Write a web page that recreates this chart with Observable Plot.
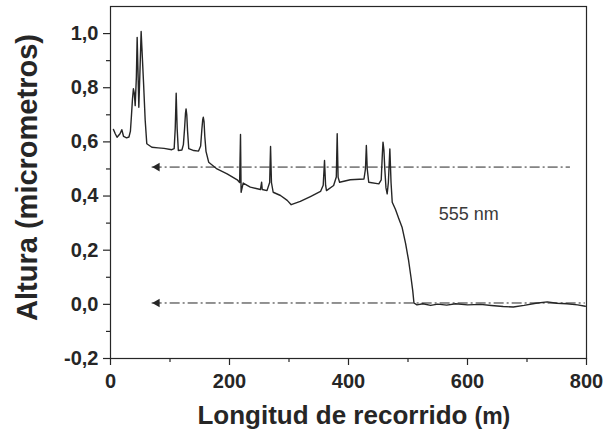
<!DOCTYPE html>
<html>
<head>
<meta charset="utf-8">
<script src="https://cdn.jsdelivr.net/npm/d3@7"></script>
<script src="https://cdn.jsdelivr.net/npm/@observablehq/plot@0.6"></script>
<style>
  html, body { margin: 0; padding: 0; background: white; }
</style>
</head>
<body>
<div id="chart"></div>
<script>
// Profile: distance along scan (m) and height (micrometres)
const distance = [5, 8, 11, 16, 19, 22, 27, 31, 33.5, 35, 37, 38.5, 40, 41.5, 43.5, 44.8, 46, 47.6, 49.5, 51.5, 52.7, 55.5, 58.3, 61, 69.5, 80, 90, 103, 107, 108.8, 110.4, 112, 114, 120, 122.5, 124.5, 126, 127, 128.2, 129.5, 131.5, 140, 148, 151.5, 153.5, 155, 156, 157.2, 158.5, 160.5, 165, 179, 196, 213, 217, 218.5, 219.5, 223, 235, 252, 254, 255, 263, 267.5, 269, 270.5, 273.4, 285.7, 297, 303.7, 319, 336, 353, 357.5, 359.7, 361.5, 363, 375, 379.5, 381, 382.5, 385, 403, 426, 428.5, 430, 431.5, 434, 451, 455, 457, 458, 459.5, 461, 463, 465, 467, 469.5, 471.5, 473.5, 479, 484.6, 490, 496, 501, 505, 508, 510, 515, 525, 538, 550, 565, 580, 600, 622, 640, 660, 677, 695, 715, 734, 750, 767, 785, 798];
const height = [0.646, 0.63, 0.617, 0.63, 0.645, 0.62, 0.615, 0.618, 0.64, 0.69, 0.76, 0.796, 0.78, 0.734, 0.84, 0.986, 0.88, 0.728, 0.86, 1.008, 0.95, 0.82, 0.68, 0.593, 0.58, 0.578, 0.576, 0.571, 0.575, 0.65, 0.78, 0.65, 0.568, 0.57, 0.59, 0.65, 0.705, 0.722, 0.70, 0.64, 0.575, 0.568, 0.566, 0.585, 0.645, 0.682, 0.691, 0.675, 0.62, 0.565, 0.525, 0.50, 0.482, 0.46, 0.45, 0.627, 0.414, 0.448, 0.433, 0.424, 0.451, 0.424, 0.42, 0.45, 0.583, 0.45, 0.414, 0.402, 0.384, 0.368, 0.38, 0.398, 0.417, 0.44, 0.531, 0.44, 0.42, 0.439, 0.47, 0.63, 0.47, 0.451, 0.46, 0.463, 0.50, 0.587, 0.50, 0.451, 0.445, 0.46, 0.56, 0.599, 0.57, 0.50, 0.43, 0.408, 0.45, 0.574, 0.45, 0.377, 0.350, 0.316, 0.285, 0.224, 0.162, 0.10, 0.05, 0.005, -0.002, 0.002, -0.004, 0.001, -0.003, 0.002, -0.002, 0.0, -0.004, -0.008, -0.01, -0.004, 0.004, 0.009, 0.004, 0.002, -0.002, -0.007];

// Reference guide lines (dash-dot with arrow heads)
const guideY = [0.507, 0.005];
const guideStart = [70, 70];
const guideEnd = [773, 798];

// Annotation
const noteText = ["555 nm"];
const noteX = [602];
const noteY = [0.332];

// Ticks
const xTicks = [0, 200, 400, 600, 800];
const xTickLabels = ["0", "200", "400", "600", "800"];
const xMinor = [100, 300, 500, 700];
const yTicks = [-0.2, 0, 0.2, 0.4, 0.6, 0.8, 1.0];
const yTickLabels = ["-0,2", "0,0", "0,2", "0,4", "0,6", "0,8", "1,0"];
const yMinor = [-0.1, 0.1, 0.3, 0.5, 0.7, 0.9];

const xLabel = "Longitud de recorrido";
const xUnit = "(m)";
const yLabel = "Altura (micrometros)";

const ink = "#262626";

const chart = Plot.plot({
  width: 612,
  height: 435,
  marginLeft: 110,
  marginRight: 26,
  marginTop: 6,
  marginBottom: 77,
  x: {domain: [0, 800]},
  y: {domain: [-0.2, 1.1]},
  style: {fontFamily: "'Liberation Sans', Arial, sans-serif", background: "white", color: ink},
  marks: [
    Plot.axisX({ticks: xTicks, tickSize: 7, tickPadding: 8, tickFormat: d => xTickLabels[xTicks.indexOf(d)], fontSize: 20, fontWeight: "bold", label: null, strokeWidth: 1.2}),
    Plot.axisX({ticks: xMinor, tickSize: 4, tickFormat: () => "", label: null, strokeWidth: 1.2}),
    Plot.axisY({ticks: yTicks, tickSize: 7, tickPadding: 5, tickFormat: d => yTickLabels[yTicks.findIndex(t => Math.abs(t - d) < 1e-9)], fontSize: 20, fontWeight: "bold", label: null, strokeWidth: 1.2}),
    Plot.axisY({ticks: yMinor, tickSize: 4, tickFormat: () => "", label: null, strokeWidth: 1.2}),
    Plot.ruleY(guideY, {x1: guideStart, x2: guideEnd, stroke: ink, strokeWidth: 1, strokeDasharray: "10,3,2,3"}),
    Plot.dot(guideY, {x: guideStart, y: d => d, symbol: "triangle", rotate: -90, r: 3.2, fill: ink, stroke: "none", dx: 5}),
    Plot.line(distance.map((_, i) => i), {x: distance, y: height, stroke: ink, strokeWidth: 1.4, curve: "linear"}),
    Plot.text(noteText, {x: noteX, y: noteY, text: d => d, fontSize: 18, fill: "#3a3a3a"}),
    Plot.frame({stroke: ink, strokeWidth: 1.2}),
    Plot.text([yLabel], {frameAnchor: "left", textAnchor: "middle", dx: -83, dy: -5, rotate: -90, text: d => d, fontSize: 29, fontWeight: "bold", fill: ink}),
    Plot.text([xLabel], {frameAnchor: "bottom", textAnchor: "end", lineAnchor: "bottom", dx: 119, dy: 65, text: d => d, fontSize: 26, fontWeight: "bold", fill: ink}),
    Plot.text([xUnit], {frameAnchor: "bottom", textAnchor: "start", lineAnchor: "bottom", dx: 126, dy: 65, text: d => d, fontSize: 23, fontWeight: "bold", fill: ink})
  ]
});
document.getElementById("chart").appendChild(chart);
</script>
</body>
</html>
